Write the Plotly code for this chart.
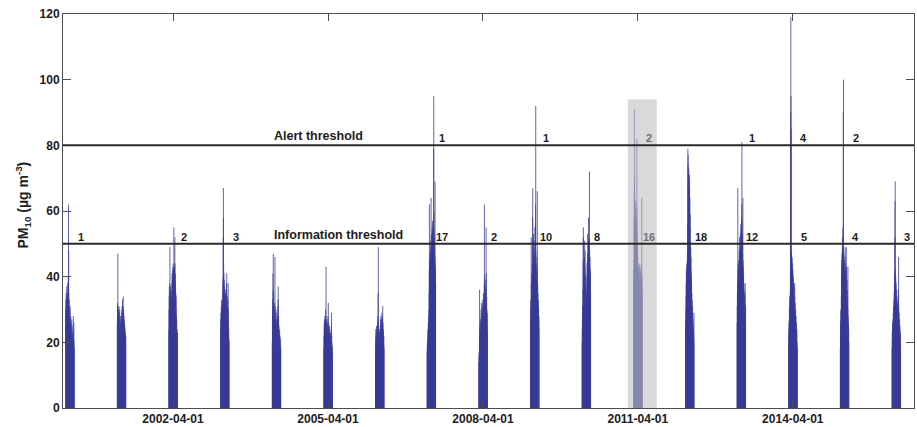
import pandas as pd
import plotly.graph_objects as go

# Daily PM10 (µg m-3) for each spring season, 3 March to 2 May (61 days)
years = list(range(2000, 2017))
season_start = "03-03"

pm10_2000 = [30, 33, 28, 35, 31, 27, 34, 37, 32, 29, 31, 35, 28, 33, 38, 30, 27, 34, 40, 36,
             62, 48, 35, 31, 29, 33, 27, 25, 30, 28, 24, 27, 31, 26, 22, 25, 28, 23, 21, 26,
             24, 20, 23, 27, 22, 19, 25, 21, 18, 23, 20, 17, 22, 19, 28, 24, 18, 21, 26, 20, 18]
pm10_2001 = [26, 30, 32, 28, 47, 31, 27, 29, 25, 30, 28, 24, 31, 26, 29, 23, 27, 30, 25, 22,
             26, 21, 24, 28, 20, 25, 23, 27, 22, 26, 24, 29, 27, 31, 26, 30, 28, 33, 29, 25,
             27, 31, 34, 29, 26, 30, 25, 28, 24, 27, 23, 26, 22, 25, 21, 24, 20, 23, 21, 19, 22]
pm10_2002 = [24, 30, 34, 37, 35, 38, 36, 49, 33, 31, 35, 37, 32, 30, 28, 34, 36, 33, 29, 27,
             33, 38, 41, 36, 31, 39, 42, 37, 40, 43, 44, 38, 41, 39, 43, 55, 42, 37, 40, 43,
             39, 36, 52, 44, 38, 34, 41, 37, 32, 35, 30, 34, 28, 25, 24, 27, 23, 22, 24, 21, 23]
pm10_2003 = [20, 24, 27, 29, 26, 31, 28, 33, 30, 27, 30, 28, 32, 26, 29, 31, 35, 38, 40, 52,
             67, 58, 44, 38, 41, 36, 39, 35, 33, 37, 34, 31, 36, 33, 29, 35, 32, 30, 34, 31,
             36, 33, 38, 35, 41, 32, 29, 34, 30, 27, 31, 28, 33, 26, 38, 30, 25, 22, 24, 21, 20]
pm10_2004 = [20, 26, 29, 33, 30, 41, 36, 47, 28, 35, 31, 30, 27, 24, 29, 26, 32, 28, 25, 46,
             27, 31, 24, 28, 26, 23, 30, 25, 21, 27, 24, 22, 26, 29, 23, 20, 25, 28, 22, 26,
             31, 33, 37, 27, 24, 28, 22, 25, 20, 23, 21, 18, 24, 20, 17, 22, 19, 21, 16, 19, 18]
pm10_2005 = [18, 22, 26, 24, 27, 21, 25, 28, 23, 26, 24, 27, 30, 25, 28, 43, 27, 22, 26, 24,
             25, 23, 27, 20, 24, 22, 26, 21, 23, 28, 25, 32, 22, 26, 20, 24, 21, 23, 19, 25,
             22, 20, 24, 18, 21, 23, 19, 22, 17, 20, 23, 19, 21, 25, 29, 22, 18, 20, 17, 19, 16]
pm10_2006 = [16, 20, 24, 22, 19, 23, 21, 25, 20, 18, 22, 24, 19, 21, 23, 26, 28, 24, 35, 27,
             49, 25, 21, 19, 24, 22, 20, 23, 18, 21, 24, 20, 22, 19, 25, 27, 21, 23, 28, 24,
             26, 22, 25, 27, 23, 29, 26, 24, 28, 27, 25, 31, 22, 26, 23, 20, 24, 21, 19, 22, 18]
pm10_2007 = [17, 19, 20, 18, 21, 24, 20, 23, 26, 22, 25, 28, 24, 30, 35, 42, 62, 45, 38, 41,
             47, 44, 39, 43, 48, 45, 51, 46, 64, 49, 53, 47, 44, 52, 48, 55, 49, 46, 54, 57,
             49, 53, 47, 56, 49, 58, 79, 95, 60, 54, 48, 52, 45, 47, 43, 46, 69, 44, 40, 42, 38]
pm10_2008 = [14, 17, 16, 15, 19, 36, 22, 25, 20, 23, 27, 21, 24, 26, 22, 30, 25, 28, 23, 32,
             26, 24, 29, 27, 31, 25, 28, 33, 26, 30, 24, 27, 35, 29, 32, 26, 35, 30, 38, 62,
             40, 33, 29, 31, 36, 28, 34, 30, 37, 33, 39, 55, 41, 32, 28, 34, 27, 30, 25, 29, 23]
pm10_2009 = [24, 28, 33, 31, 30, 52, 38, 35, 41, 37, 33, 39, 44, 36, 40, 58, 67, 49, 42, 38,
             45, 53, 47, 41, 44, 39, 51, 46, 42, 37, 48, 55, 43, 40, 45, 56, 62, 92, 48, 41,
             38, 44, 36, 40, 35, 39, 46, 42, 66, 37, 33, 38, 31, 35, 29, 33, 28, 31, 26, 24, 28]
pm10_2010 = [20, 24, 27, 31, 29, 28, 36, 45, 52, 55, 41, 38, 44, 40, 36, 42, 39, 46, 51, 43,
             40, 48, 37, 41, 35, 38, 32, 27, 22, 25, 30, 34, 29, 36, 40, 44, 38, 45, 41, 53,
             47, 43, 39, 46, 42, 58, 49, 44, 51, 47, 52, 45, 72, 48, 43, 40, 46, 41, 37, 42, 35]
pm10_2011 = [38, 42, 45, 58, 66, 91, 70, 62, 55, 48, 60, 52, 57, 49, 63, 54, 46, 49, 44, 58,
             48, 47, 82, 61, 53, 45, 49, 42, 47, 40, 44, 38, 41, 37, 43, 39, 35, 42, 38, 44,
             36, 40, 34, 39, 43, 37, 41, 35, 38, 33, 42, 36, 39, 34, 44, 38, 41, 64, 40, 37, 35]
pm10_2012 = [22, 27, 25, 30, 34, 38, 42, 36, 40, 44, 39, 43, 41, 45, 47, 48, 56, 79, 74, 77,
             70, 72, 68, 73, 65, 70, 62, 67, 60, 71, 58, 64, 55, 59, 49, 48, 45, 49, 42, 46,
             39, 41, 36, 38, 33, 35, 30, 33, 28, 31, 26, 29, 24, 27, 22, 25, 20, 23, 19, 21, 29]
pm10_2013 = [26, 31, 35, 30, 38, 67, 44, 40, 36, 42, 39, 45, 41, 37, 43, 48, 40, 46, 52, 44,
             49, 42, 47, 53, 45, 49, 56, 48, 54, 49, 46, 55, 58, 62, 81, 57, 49, 53, 44, 47,
             42, 64, 45, 40, 43, 37, 41, 35, 38, 33, 36, 31, 34, 29, 32, 28, 35, 38, 30, 26, 31]
pm10_2014 = [20, 24, 26, 22, 27, 31, 29, 34, 30, 26, 33, 36, 41, 62, 90, 119, 95, 85, 48, 44,
             47, 42, 45, 40, 46, 43, 38, 44, 41, 37, 42, 39, 35, 40, 36, 33, 38, 34, 31, 37,
             32, 29, 34, 38, 30, 27, 32, 28, 25, 30, 26, 23, 28, 24, 21, 26, 22, 19, 24, 20, 18]
pm10_2015 = [18, 22, 26, 30, 27, 24, 29, 34, 38, 42, 45, 40, 47, 44, 49, 46, 52, 48, 55, 47,
             43, 90, 100, 44, 41, 47, 42, 38, 45, 40, 36, 43, 39, 46, 49, 41, 37, 44, 39, 35,
             42, 38, 49, 40, 36, 43, 34, 39, 31, 36, 29, 33, 27, 30, 43, 28, 23, 26, 21, 24, 20]
pm10_2016 = [18, 23, 21, 26, 24, 22, 27, 25, 29, 24, 31, 28, 26, 33, 30, 35, 38, 32, 41, 36,
             52, 63, 69, 42, 37, 33, 40, 35, 31, 38, 34, 29, 36, 32, 27, 34, 30, 26, 32, 28,
             24, 30, 27, 33, 29, 36, 46, 31, 27, 23, 29, 25, 21, 27, 24, 20, 25, 22, 18, 23, 19]

seasons = [pm10_2000, pm10_2001, pm10_2002, pm10_2003, pm10_2004, pm10_2005,
           pm10_2006, pm10_2007, pm10_2008, pm10_2009, pm10_2010, pm10_2011,
           pm10_2012, pm10_2013, pm10_2014, pm10_2015, pm10_2016]

info_threshold = 50
alert_threshold = 80
info_label = "Information threshold"
alert_label = "Alert threshold"

tick_dates = ["2002-04-01", "2005-04-01", "2008-04-01", "2011-04-01", "2014-04-01"]
y_ticks = [0, 20, 40, 60, 80, 100, 120]

highlight_year = 2011
highlight_span = ["2011-01-20", "2011-08-13"]
highlight_top = 94

BAR_COLOR = "rgb(58,60,152)"
INK = "#1c1c1c"
FRAME = "#4d4d4d"
FONT = "Liberation Sans, Arial, sans-serif"

# One vertical stick per day, from zero up to the daily value
xs, ys = [], []
for yr, vals in zip(years, seasons):
    days = pd.date_range(f"{yr}-{season_start}", periods=len(vals), freq="D")
    for d, v in zip(days, vals):
        ds = d.strftime("%Y-%m-%d")
        xs += [ds, ds, None]
        ys += [0, v, None]

fig = go.Figure()
fig.add_trace(go.Scatter(
    x=xs, y=ys, mode="lines",
    line=dict(color=BAR_COLOR, width=0.8, simplify=False),
    connectgaps=False, hoverinfo="skip", showlegend=False,
))

shapes = [
    dict(type="rect", xref="x", yref="y",
         x0=highlight_span[0], x1=highlight_span[1], y0=0, y1=highlight_top,
         fillcolor="rgb(190,190,190)", opacity=0.58, line=dict(width=0), layer="above"),
]
for thr in (alert_threshold, info_threshold):
    shapes.append(dict(type="line", xref="paper", yref="y", x0=0, x1=1, y0=thr, y1=thr,
                       line=dict(color="#2a2a2a", width=2), layer="above"))

annotations = []
# Threshold names
for thr, name in ((alert_threshold, alert_label), (info_threshold, info_label)):
    annotations.append(dict(
        x="2004-02-28", y=thr, xref="x", yref="y", text=f"<b>{name}</b>",
        showarrow=False, xanchor="left", yanchor="bottom",
        font=dict(family=FONT, size=12.5, color=INK)))

# Number of days above each threshold, written next to each season
for yr, vals in zip(years, seasons):
    colour = "#6e6e6e" if yr == highlight_year else INK
    for thr in (info_threshold, alert_threshold):
        n = sum(1 for v in vals if v > thr)
        if n > 0:
            annotations.append(dict(
                x=f"{yr}-06-19", y=thr, xref="x", yref="y", text=f"<b>{n}</b>",
                showarrow=False, xanchor="center", yanchor="bottom", yshift=-1,
                font=dict(family=FONT, size=11, color=colour)))

# Y-axis title
annotations.append(dict(
    x=-0.0465, y=0.515, xref="paper", yref="paper", textangle=-90,
    text="<b>PM<sub>10</sub> (µg m<sup>-3</sup>)</b>", showarrow=False,
    xanchor="center", yanchor="middle", font=dict(family=FONT, size=14, color=INK)))

fig.update_layout(
    width=917, height=427,
    margin=dict(l=63, r=3, t=14, b=19, autoexpand=False),
    plot_bgcolor="white", paper_bgcolor="white",
    showlegend=False, shapes=shapes, annotations=annotations,
    font=dict(family=FONT, color=INK),
)
fig.update_xaxes(
    type="date", range=["2000-02-13", "2016-08-05"],
    tickvals=tick_dates, ticktext=tick_dates,
    ticks="inside", ticklen=7, tickcolor=FRAME, tickwidth=1,
    showline=True, linecolor=FRAME, linewidth=1, mirror="ticks",
    showgrid=False, zeroline=False, automargin=False,
    tickfont=dict(family=FONT, size=12, color=INK, weight="bold"),
)
fig.update_yaxes(
    range=[0, 120], tickvals=y_ticks,
    ticks="inside", ticklen=8, tickcolor=FRAME, tickwidth=1,
    showline=True, linecolor=FRAME, linewidth=1, mirror="ticks",
    showgrid=False, zeroline=False, automargin=False,
    tickfont=dict(family=FONT, size=12, color=INK, weight="bold"),
)

fig.write_html("out.html")
